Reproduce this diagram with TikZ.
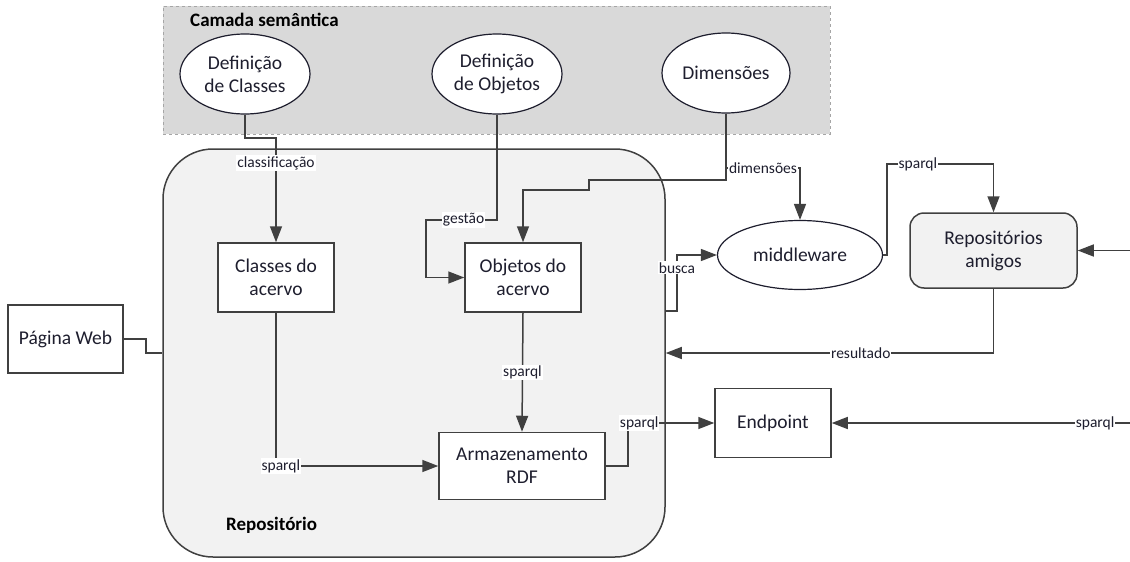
\documentclass[tikz,border=0pt]{standalone}
\usepackage{fontspec}
\setmainfont{Carlito}
\usetikzlibrary{shapes.geometric,arrows.meta}

\definecolor{ink}{HTML}{1E1E2E}
\definecolor{edge}{HTML}{404040}
\definecolor{layerfill}{HTML}{D9D9D9}
\definecolor{layerline}{HTML}{A6A6A6}
\definecolor{repofill}{HTML}{F2F2F2}

\tikzset{
  maintext/.style={font=\fontsize{19.5}{23}\selectfont, text=ink, align=center},
  oval/.style={maintext, ellipse, draw=ink, line width=1.2pt, fill=white, inner sep=0pt},
  box/.style={maintext, rectangle, draw=edge, line width=1.5pt, fill=white, inner sep=0pt},
  roundbox/.style={box, rounded corners=14pt, fill=repofill},
  conn/.style={draw=edge, line width=1.5pt},
  arr/.style={conn, -{Triangle[length=16pt,width=12pt]}},
  lab/.style={font=\fontsize{15.5}{17}\selectfont, text=ink, fill=white, inner sep=1pt},
  heading/.style={font=\bfseries\fontsize{19}{21}\selectfont, text=black, anchor=west, inner sep=0pt},
}

\begin{document}
\begin{tikzpicture}[x=1pt,y=-1pt]
\useasboundingbox (0,0) rectangle (1130,562);

% semantic layer
\node[rectangle, draw=layerline, dashed, line width=0.8pt, fill=layerfill,
      minimum width=667pt, minimum height=128pt, inner sep=0pt] (layer) at (496.5,70) {};
\node[heading] (layertitle) at (190,20) {Camada semântica};

% repository container
\node[rectangle, rounded corners=50pt, draw=edge, line width=1.5pt, fill=repofill,
      minimum width=502pt, minimum height=408pt, inner sep=0pt] (repo) at (414,353) {};
\node[heading] (repotitle) at (226,525) {Repositório};

% semantic definitions
\node[oval, minimum width=130pt, minimum height=80pt] (defc) at (245,74) {Definição\\de Classes};
\node[oval, minimum width=130pt, minimum height=80pt] (defo) at (497,74) {Definição\\de Objetos};
\node[oval, minimum width=128pt, minimum height=80pt] (dim) at (726,73) {Dimensões};

% repository components
\node[box, minimum width=116pt, minimum height=69pt] (clac) at (276,277.5) {Classes do\\acervo};
\node[box, minimum width=116pt, minimum height=69pt] (obj) at (523,277.5) {Objetos do\\acervo};
\node[box, minimum width=166pt, minimum height=67pt] (arm) at (522,466) {Armazenamento\\RDF};

% outside the repository
\node[box, minimum width=115pt, minimum height=68pt] (web) at (65.5,339) {Página Web};
\node[box, minimum width=116pt, minimum height=69pt] (endp) at (773,423) {Endpoint};
\node[oval, minimum width=165pt, minimum height=69pt] (mid) at (800,255) {middleware};
\node[roundbox, minimum width=167pt, minimum height=75pt] (amigos) at (993.5,250.5) {Repositórios\\amigos};

\coordinate (amigosin) at (1130,250.5);
\coordinate (endpin) at (1130,423);

% connectors
\draw[arr] (defc.south) -- (245,138) -- (276,138) -- node[lab,pos=0.24]{classificação} (clac.north);
\draw[arr] (defo.south) -- (497,220) -- node[lab,pos=0.47]{gestão} (426,220) -- (426,277.5) -- (obj.west);
\draw[arr] (dim.south) -- (726,180) -- (589,180) -- (589,190) -- (523,190) -- (obj.north);
\draw[arr] (dim.south) -- (726,168) -- node[lab]{dimensões} (800,168) -- (mid.north);
\draw[arr] ([yshift=42pt]repo.east) -- (677,311) -- node[lab,pos=0.77]{busca} (677,255) -- (mid.west);
\draw[arr] (mid.east) -- (887,255) -- (887,164) -- node[lab,pos=0.29]{sparql} (993.5,164) -- (amigos.north);
\draw[arr] (amigosin) -- (amigos.east);
\draw[arr] (amigos.south) -- (993.5,353) -- node[lab,pos=0.405]{resultado} (repo.east);
\draw[arr] (clac.south) -- (276,466) -- node[lab,pos=0.03]{sparql} (arm.west);
\draw[arr] (obj.south) -- node[lab,pos=0.5]{sparql} (arm.north);
\draw[arr] (arm.east) -- (628,466) -- (628,423) -- node[lab,pos=0.13]{sparql} (endp.west);
\draw[arr] (endpin) -- node[lab,pos=0.117]{sparql} (endp.east);
\draw[conn] (web.east) -- (146,339) -- (146,353) -- (repo.west);
\end{tikzpicture}
\end{document}
